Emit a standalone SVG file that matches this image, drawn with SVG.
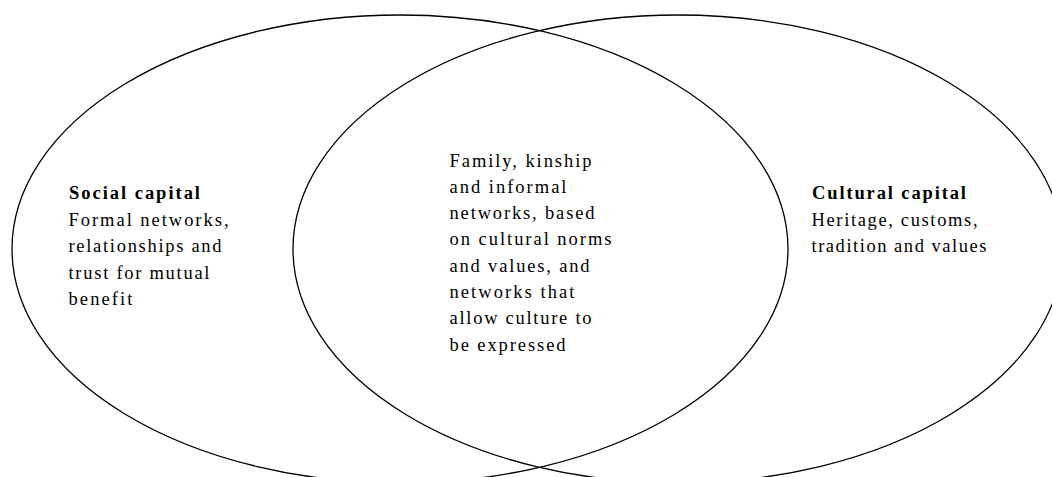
<svg xmlns="http://www.w3.org/2000/svg" width="1052" height="477" viewBox="0 0 1052 477">
<style>
.ring{fill:none;stroke:#000;stroke-width:1.3}
.t{font-family:"Liberation Serif","Times New Roman",serif;font-size:18.5px;fill:#000}
.b{font-weight:bold}
</style>
<rect x="0" y="0" width="1052" height="477" fill="#fff"/>
<g id="social-capital">
<ellipse class="ring" cx="400" cy="249" rx="388" ry="234"/>
<text class="t b" x="69" y="199" textLength="131" lengthAdjust="spacing">Social capital</text>
<text class="t" x="68.5" y="225.6" textLength="160" lengthAdjust="spacing">Formal networks,</text>
<text class="t" x="68.5" y="252.2" textLength="153" lengthAdjust="spacing">relationships and</text>
<text class="t" x="68.5" y="278.8" textLength="141" lengthAdjust="spacing">trust for mutual</text>
<text class="t" x="68.5" y="305.4" textLength="64" lengthAdjust="spacing">benefit</text>
</g>
<g id="cultural-capital">
<ellipse class="ring" cx="678" cy="249" rx="385" ry="234"/>
<text class="t b" x="812" y="199" textLength="154" lengthAdjust="spacing">Cultural capital</text>
<text class="t" x="811.5" y="225.6" textLength="166" lengthAdjust="spacing">Heritage, customs,</text>
<text class="t" x="811.5" y="252.2" textLength="175" lengthAdjust="spacing">tradition and values</text>
</g>
<g id="overlap">
<text class="t" x="449.5" y="166.5" textLength="142" lengthAdjust="spacing">Family, kinship</text>
<text class="t" x="449.5" y="192.8" textLength="117" lengthAdjust="spacing">and informal</text>
<text class="t" x="449.5" y="219.1" textLength="145" lengthAdjust="spacing">networks, based</text>
<text class="t" x="449.5" y="245.4" textLength="162" lengthAdjust="spacing">on cultural norms</text>
<text class="t" x="449.5" y="271.7" textLength="140" lengthAdjust="spacing">and values, and</text>
<text class="t" x="449.5" y="298" textLength="125" lengthAdjust="spacing">networks that</text>
<text class="t" x="449.5" y="324.3" textLength="142" lengthAdjust="spacing">allow culture to</text>
<text class="t" x="449.5" y="350.6" textLength="116" lengthAdjust="spacing">be expressed</text>
</g>
<g id="connectors"></g>
</svg>
